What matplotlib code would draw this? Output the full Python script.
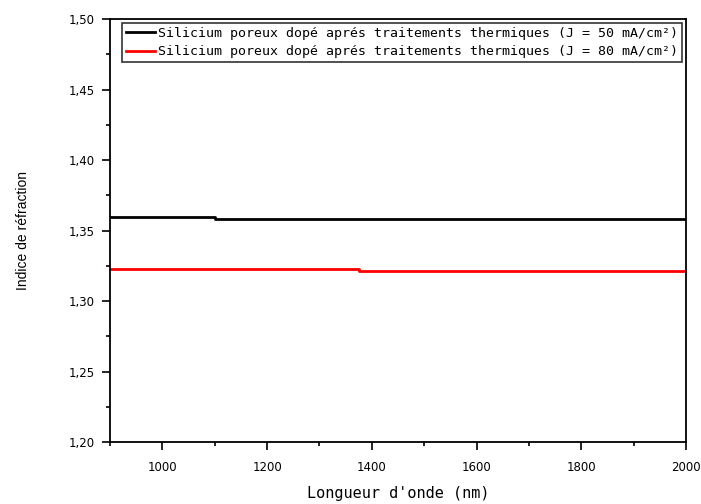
import numpy as np
import matplotlib.pyplot as plt
from matplotlib.ticker import MultipleLocator

# data
wl_50 = [900, 1100, 1100, 2000]
n_50 = [1.3597, 1.3597, 1.3582, 1.3582]
wl_80 = [900, 1375, 1375, 2000]
n_80 = [1.3226, 1.3226, 1.3210, 1.3210]

labels = ["Silicium poreux dopé aprés traitements thermiques (J = 50 mA/cm²)",
          "Silicium poreux dopé aprés traitements thermiques (J = 80 mA/cm²)"]
y_ticks = [1.20, 1.25, 1.30, 1.35, 1.40, 1.45, 1.50]
y_ticklabels = ["1,20", "1,25", "1,30", "1,35", "1,40", "1,45", "1,50"]
x_ticks = [1000, 1200, 1400, 1600, 1800, 2000]

plt.rcParams['font.family'] = ['DejaVu Sans']

fig = plt.figure(figsize=(7.01, 5.04), dpi=100)
ax = fig.add_axes([0.157, 0.123, 0.8215, 0.839])

ax.plot(wl_50, n_50, color='black', lw=2, label=labels[0])
ax.plot(wl_80, n_80, color='red', lw=2, label=labels[1])

ax.set_xlim(900, 2000)
ax.set_ylim(1.20, 1.50)
ax.set_xticks(x_ticks)
ax.set_xticklabels([str(v) for v in x_ticks])
ax.set_yticks(y_ticks)
ax.set_yticklabels(y_ticklabels)
ax.xaxis.set_minor_locator(MultipleLocator(100))
ax.yaxis.set_minor_locator(MultipleLocator(0.025))
ax.tick_params(which='major', length=6, width=1.2, labelsize=8.5, direction='out')
ax.tick_params(which='minor', length=3, width=1.2, direction='out')
ax.tick_params(axis='x', pad=8)
ax.tick_params(axis='y', pad=5)
for s in ax.spines.values():
    s.set_linewidth(1.3)

ax.set_xlabel("Longueur d'onde (nm)", fontsize=11, labelpad=8,
              family='DejaVu Sans Mono')
ax.set_ylabel("Indice de réfraction", fontsize=10, labelpad=28,
              family='Liberation Sans')

leg = ax.legend(loc='upper right', prop={'family': 'DejaVu Sans Mono', 'size': 9.5},
                frameon=True, fancybox=False,
                edgecolor='black', handlelength=2.2, handletextpad=0.2,
                borderpad=0.3, labelspacing=0.4, borderaxespad=0.3)
leg.get_frame().set_linewidth(1.2)

fig.savefig('out.png', dpi=100)
